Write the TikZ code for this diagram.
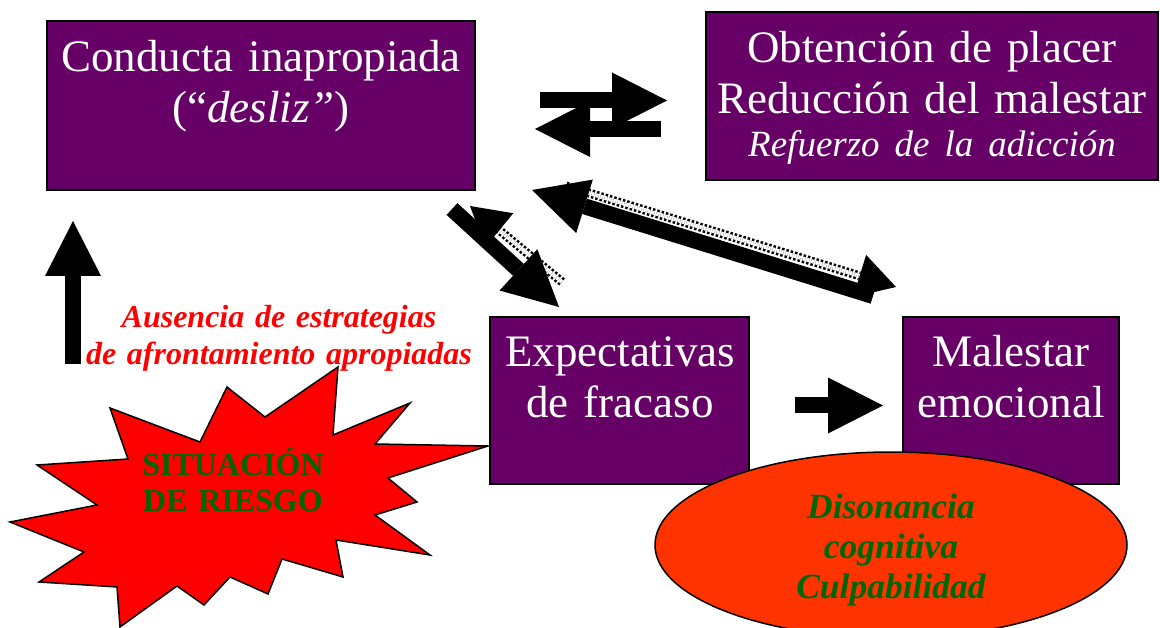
\documentclass[tikz,border=0pt]{standalone}
\usepackage{fontspec}
\setmainfont{Liberation Serif}
\usepackage{tikz}
\usetikzlibrary{arrows.meta, calc, positioning, shapes.geometric}
\definecolor{boxpurple}{RGB}{102,0,102}
\definecolor{ovalred}{RGB}{255,51,0}
\definecolor{textgreen}{RGB}{0,102,0}
\tikzset{
    stagebox/.style={rectangle, draw=black, line width=2pt, fill=boxpurple, inner sep=0pt},
    boxlabel/.style={text=white, align=center, inner sep=0pt, text width=450pt, font=\fontsize{45}{51}\selectfont},
    redlabel/.style={text=red, align=center, inner sep=0pt, text width=420pt, font=\fontsize{32}{37}\selectfont\bfseries\itshape},
    greenlabel/.style={text=textgreen, align=center, inner sep=0pt, text width=420pt},
    blockarrow/.style={line width=16pt, -{Triangle[width=56pt, length=55pt, line width=0pt]}},
    dotshaft/.style={line width=2.5pt, double=white, double distance=4pt, dash pattern=on 2.5pt off 2pt},
    dothead/.style={line width=1pt, -{Triangle[width=44pt, length=38pt, line width=0pt]}}
}

\begin{document}
\begin{tikzpicture}[x=1pt, y=-1pt]
    \useasboundingbox (0,0) rectangle (1160,628);

    % risk situation
    \draw[fill=red, line width=1.5pt, line join=miter]
        (338,367) -- (333,435) -- (410,403) -- (375,444) -- (488,446) -- (388,478)
        -- (417,502) -- (375,515) -- (430,555) -- (336,540) -- (343,577) -- (282,559)
        -- (268,594) -- (230,577) -- (204,605) -- (177,586) -- (120,627) -- (117,587)
        -- (39,582) -- (84,552) -- (10,522) -- (97,505) -- (37,465) -- (128,459)
        -- (110,408) -- (200,442) -- (227,387) -- (265,417) -- cycle;

    % stages
    \node[stagebox, minimum width=428pt, minimum height=169pt] (conducta) at (261,105.5) {};
    \node[stagebox, minimum width=452pt, minimum height=168pt] (placer) at (932,96) {};
    \node[stagebox, minimum width=259pt, minimum height=167pt] (fracaso) at (619.5,400.5) {};
    \node[stagebox, minimum width=216pt, minimum height=167pt] (malestar) at (1011,400.5) {};
    \node[ellipse, draw, line width=1.5pt, fill=ovalred, minimum width=472pt, minimum height=186pt] (disonancia) at (891,545) {};

    \node[boxlabel, anchor=base] at (261,72) {Conducta inapropiada\\(“\textit{desliz”})};
    \node[boxlabel, anchor=base] at (932,63) {Obtención de placer\\Reducción del malestar\\[-8pt]
        {\fontsize{37}{43}\selectfont\itshape Refuerzo de la adicción}};
    \node[boxlabel, anchor=base] at (620,367) {Expectativas\\de fracaso};
    \node[boxlabel, anchor=base] at (1011,367) {Malestar\\emocional};
    \node[greenlabel, anchor=base, font=\fontsize{35.5}{40}\selectfont\bfseries\itshape] at (891,518)
        {Disonancia\\cognitiva\\Culpabilidad};
    \node[greenlabel, anchor=base, font=\fontsize{32}{36}\selectfont\bfseries] (riesgo) at (233,475)
        {SITUACIÓN\\DE RIESGO};
    \node[redlabel, anchor=base] (ausencia) at (279,328) {Ausencia de estrategias\\de afrontamiento apropiadas};

    % arrow ends
    \coordinate (upS) at (73,364);      \coordinate (upT) at (73,221);
    \coordinate (topRS) at (540,100.5); \coordinate (topRT) at (667,100.5);
    \coordinate (topLS) at (661,129);   \coordinate (topLT) at (535,129);
    \coordinate (diagS) at (452,209);   \coordinate (diagT) at (559,307);
    \coordinate (backS) at (562,282);   \coordinate (backT) at (470,206);
    \coordinate (longS) at (873,296);   \coordinate (longT) at (532,190);
    \coordinate (fwdS) at (566,186);    \coordinate (fwdT) at (896,287);
    \coordinate (midS) at (795,405.5);  \coordinate (midT) at (883,405.5);
    \coordinate (backH) at ($(backT)!38pt!(backS)$);
    \coordinate (fwdH) at ($(fwdT)!38pt!(fwdS)$);

    % dotted arrows first
    \draw[dotshaft] (backS) -- (backH);
    \draw[dothead] (backH) -- (backT);
    \draw[dotshaft] (fwdS) -- (fwdH);
    \draw[dothead] (fwdH) -- (fwdT);

    \draw[blockarrow] (upS) -- (upT);
    \draw[blockarrow] (topRS) -- (topRT);
    \draw[blockarrow] (topLS) -- (topLT);
    \draw[blockarrow] (diagS) -- (diagT);
    \draw[blockarrow] (longS) -- (longT);
    \draw[blockarrow] (midS) -- (midT);
\end{tikzpicture}
\end{document}
